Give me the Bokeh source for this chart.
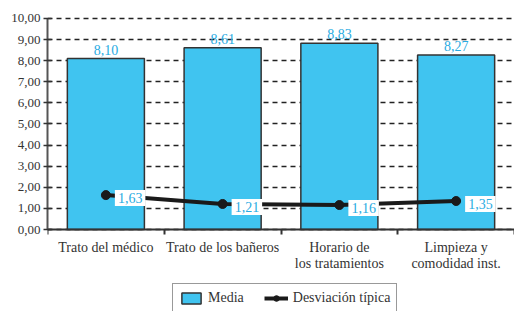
from bokeh.plotting import figure
from bokeh.models import (ColumnDataSource, FixedTicker, LabelSet, Legend, LegendItem, Range1d)
from bokeh.core.properties import value
from bokeh.embed import file_html
from bokeh.resources import INLINE

categories = ["Trato del médico", "Trato de los bañeros", "Horario de\nlos tratamientos", "Limpieza y\ncomodidad inst."]
media = [8.10, 8.61, 8.83, 8.27]
desviacion = [1.63, 1.21, 1.16, 1.35]
media_labels = ["8,10", "8,61", "8,83", "8,27"]
desv_labels = ["1,63", "1,21", "1,16", "1,35"]
y_ticks = [0, 1, 2, 3, 4, 5, 6, 7, 8, 9, 10]
y_tick_labels = ["0,00", "1,00", "2,00", "3,00", "4,00", "5,00", "6,00", "7,00", "8,00", "9,00", "10,00"]

FONT = "Liberation Serif"
TEXT = "#333333"
CYAN_TEXT = "#29abe2"

xs = [i + 0.5 for i in range(len(categories))]
src = ColumnDataSource(dict(x=xs, media=media, desv=desviacion,
                            ml=media_labels, dl=desv_labels))

p = figure(frame_width=467, frame_height=299, output_backend="svg", toolbar_location=None,
           x_range=Range1d(0, 4), y_range=Range1d(-3.886, 10.284),
           min_border_left=47, min_border_right=0, min_border_top=12, min_border_bottom=0)
p.outline_line_color = None
p.background_fill_color = "white"
p.border_fill_color = "white"

bars = p.vbar(x="x", top="media", bottom=0, width=0.66, source=src, fill_color="#40c4f0",
              line_color="#333333", line_width=1.5)
line = p.line(x="x", y="desv", source=src, line_color="#1a1a1a", line_width=4)
pts = p.scatter(x="x", y="desv", source=src, size=9, fill_color="#1a1a1a", line_color="#1a1a1a")

p.add_layout(LabelSet(x="x", y="media", text="ml", source=src, text_align="center",
                      text_baseline="bottom", y_offset=4, text_color=CYAN_TEXT,
                      text_font=FONT, text_font_size="14px"))
p.text(x="x", y="desv", text="dl", source=src, text_align="left",
       text_baseline="middle", x_offset=9, y_offset=3, text_color=CYAN_TEXT,
       text_font=value(FONT), text_font_size="14px",
       background_fill_color="white", padding=3)

# axes
p.xaxis.fixed_location = 0
p.xaxis.ticker = FixedTicker(ticks=xs, minor_ticks=[0, 1, 2, 3, 4])
p.xaxis.major_label_overrides = {x: c for x, c in zip(xs, categories)}
p.xaxis.major_tick_line_color = None
p.xaxis.major_tick_in = 0
p.xaxis.major_tick_out = 0
p.xaxis.minor_tick_line_color = "#333333"
p.xaxis.minor_tick_line_width = 2
p.xaxis.minor_tick_in = 0
p.xaxis.minor_tick_out = 5
p.xaxis.axis_line_color = "#333333"
p.xaxis.axis_line_width = 2
p.xaxis.major_label_text_font = FONT
p.xaxis.major_label_text_font_size = "14px"
p.xaxis.major_label_text_color = TEXT
p.xaxis.major_label_text_line_height = 1.1
p.xaxis.major_label_standoff = 5

p.yaxis.bounds = (0, 10)
p.yaxis.ticker = FixedTicker(ticks=y_ticks)
p.yaxis.major_label_overrides = {t: l for t, l in zip(y_ticks, y_tick_labels)}
p.yaxis.minor_tick_line_color = None
p.yaxis.major_tick_line_color = "#333333"
p.yaxis.major_tick_line_width = 1.5
p.yaxis.major_tick_in = 4
p.yaxis.major_tick_out = 4
p.yaxis.axis_line_color = "#555555"
p.yaxis.axis_line_width = 2
p.yaxis.major_label_text_font = FONT
p.yaxis.major_label_text_font_size = "13px"
p.yaxis.major_label_text_color = TEXT
p.yaxis.major_label_standoff = 3

p.xgrid.grid_line_color = None
p.ygrid.grid_line_color = "#222222"
p.ygrid.grid_line_dash = "5 4"
p.ygrid.grid_line_width = 1.5

legend = Legend(items=[LegendItem(label="Media", renderers=[bars]),
                       LegendItem(label="Desviación típica", renderers=[line, pts])],
                orientation="horizontal", location=(125, -2),
                label_text_font=FONT, label_text_font_size="14px", label_text_color=TEXT,
                border_line_color="#333333", border_line_width=1.5,
                background_fill_color="white",
                glyph_width=24, glyph_height=14, spacing=20, padding=6, margin=0)
p.add_layout(legend)

open("out.html", "w").write(file_html(p, INLINE))
